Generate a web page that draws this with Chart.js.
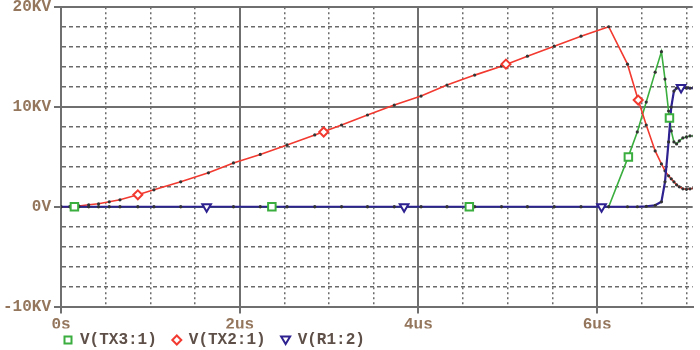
<!DOCTYPE html>
<html><head><meta charset="utf-8">
<script src="https://cdn.jsdelivr.net/npm/chart.js@4/dist/chart.umd.min.js"></script>
<style>html,body{margin:0;padding:0;background:#fff;overflow:hidden}</style>
</head><body>
<canvas id="c" width="700" height="350"></canvas>
<script>
// ---- data (time in us, voltage in KV) ----
const timeUs = [0, 0.1, 0.2, 0.31, 0.42, 0.54, 0.66, 0.86, 1.04, 1.34, 1.65, 1.93, 2.23, 2.53, 2.84, 3.14, 3.43, 3.73, 4.03, 4.32, 4.63, 4.93, 5.22, 5.52, 5.82, 6.13, 6.34, 6.45, 6.55, 6.65, 6.72, 6.76, 6.80, 6.83, 6.86, 6.89, 6.92, 6.96, 7.0, 7.04, 7.08];
const vTX3 = [0, 0, 0, 0, 0, 0, 0, 0, 0, 0, 0, 0, 0, 0, 0, 0, 0, 0, 0, 0, 0, 0, 0, 0, 0, 0, 4.8, 7.5, 10.5, 13.5, 15.55, 12.8, 9.6, 7.6, 6.5, 6.3, 6.6, 6.9, 7.0, 7.1, 7.1];
const vTX2 = [0, 0.02, 0.08, 0.2, 0.3, 0.5, 0.7, 1.2, 1.7, 2.5, 3.4, 4.4, 5.25, 6.2, 7.2, 8.2, 9.2, 10.2, 11.1, 12.2, 13.2, 14.1, 15.1, 16.1, 17.1, 18.05, 14.3, 11.0, 8.2, 5.6, 4.3, 3.6, 3.1, 2.8, 2.5, 2.2, 2.0, 1.8, 1.75, 1.8, 1.85];
const vR1 = [0, 0, 0, 0, 0, 0, 0, 0, 0, 0, 0, 0, 0, 0, 0, 0, 0, 0, 0, 0, 0, 0, 0, 0, 0, 0, 0, 0, 0.05, 0.15, 0.5, 2.5, 6.5, 10.0, 11.6, 11.9, 11.95, 11.95, 11.9, 11.9, 11.9];

// marker symbols drawn on each trace
const markTX3Time = [0.15, 2.36, 4.57, 6.35, 6.81];
const markTX3Val  = [0, 0, 0, 5.0, 8.9];
const markTX2Time = [0.86, 2.94, 4.98, 6.46];
const markTX2Val  = [1.2, 7.5, 14.3, 10.7];
const markR1Time  = [1.63, 3.84, 6.05, 6.94];
const markR1Val   = [0, 0, 0, 11.95];

const seriesNames = ['V(TX3:1)', 'V(TX2:1)', 'V(R1:2)'];
const xTickLabels = {'0': '0s', '2': '2us', '4': '4us', '6': '6us'};
const yTickLabels = {'-10': '-10KV', '0': '0V', '10': '10KV', '20': '20KV'};

// ---- styling ----
const GREEN = '#3aae3e', RED = '#f23a30', BLUE = '#2e2290';
const DOT = '#333333';
const GRID = '#6f6f6f';
const MINOR = '#6a6a6a';
const TICKTXT = '#94765c';
const LEGTXT = '#5e5048';
const FONT = '"Liberation Mono", "DejaVu Sans Mono", monospace';

const zip = (t, v) => t.map((x, i) => ({x: x, y: v[i]}));

function traceDs(label, vals, color, width, order) {
  return {
    label: label, data: zip(timeUs, vals), borderColor: color, borderWidth: width,
    pointRadius: 1.6, pointBackgroundColor: DOT, pointBorderWidth: 0,
    tension: 0, fill: false, order: order
  };
}
function markerDs(label, t, v, color, style, radius, rotation) {
  return {
    label: label, data: zip(t, v), showLine: false, borderColor: color,
    pointStyle: style, pointRadius: radius, pointRotation: rotation,
    pointBorderColor: color, pointBackgroundColor: '#ffffff', pointBorderWidth: 2,
    order: 0, isMarker: true, markerColor: color, markerStyle: style
  };
}

const isMajorX = v => Math.abs(v / 2 - Math.round(v / 2)) < 1e-6;
const isMajorY = v => Math.abs(v / 10 - Math.round(v / 10)) < 1e-6;

const legendPlugin = {
  id: 'psLegend',
  afterDraw(chart) {
    const ctx = chart.ctx;
    ctx.save();
    ctx.font = 'bold 16px ' + FONT;
    ctx.textBaseline = 'middle';
    ctx.textAlign = 'left';
    let x = 68;
    const y = 340;
    chart.data.datasets.filter(d => d.isMarker).forEach(d => {
      ctx.lineWidth = 2;
      ctx.setLineDash([]);
      ctx.strokeStyle = d.markerColor;
      ctx.fillStyle = '#fff';
      ctx.beginPath();
      if (d.markerStyle === 'rect') {
        ctx.rect(x - 3.5, y - 3.5, 7, 7);
      } else if (d.markerStyle === 'rectRot') {
        ctx.moveTo(x, y - 4.5); ctx.lineTo(x + 4.5, y); ctx.lineTo(x, y + 4.5); ctx.lineTo(x - 4.5, y); ctx.closePath();
      } else {
        ctx.moveTo(x - 4.5, y - 3.5); ctx.lineTo(x + 4.5, y - 3.5); ctx.lineTo(x, y + 4); ctx.closePath();
      }
      ctx.fill(); ctx.stroke();
      ctx.fillStyle = LEGTXT;
      ctx.fillText(d.label, x + 12, y);
      x += 12 + ctx.measureText(d.label).width + 20;
    });
    ctx.restore();
  }
};

new Chart(document.getElementById('c'), {
  type: 'line',
  data: {
    datasets: [
      traceDs(seriesNames[0], vTX3, GREEN, 1.6, 3),
      traceDs(seriesNames[1], vTX2, RED, 1.6, 2),
      traceDs(seriesNames[2], vR1, BLUE, 2.2, 1),
      markerDs(seriesNames[0], markTX3Time, markTX3Val, GREEN, 'rect', 5.3, 0),
      markerDs(seriesNames[1], markTX2Time, markTX2Val, RED, 'rectRot', 4.5, 0),
      markerDs(seriesNames[2], markR1Time, markR1Val, BLUE, 'triangle', 5, 180)
    ]
  },
  options: {
    responsive: false,
    animation: false,
    layout: {padding: {top: 0, left: 0, right: 0, bottom: 21.5}},
    plugins: {legend: {display: false}, tooltip: {enabled: false}},
    scales: {
      x: {
        type: 'linear', min: 0, max: 7.07,
        afterFit: s => { s.height = 22; s.paddingLeft = 0; s.paddingRight = 0; },
        ticks: {
          stepSize: 0.5, autoSkip: false, includeBounds: false, maxRotation: 0, padding: 2,
          color: TICKTXT, font: {family: FONT, size: 16, weight: 'bold'},
          callback: v => xTickLabels[String(v)] ?? ''
        },
        grid: {
          color: c => (c.tick && isMajorX(c.tick.value)) ? GRID : MINOR,
          lineWidth: c => (c.tick && isMajorX(c.tick.value)) ? 2 : 1.5,
          tickLength: 7, tickWidth: 2,
          tickColor: c => (c.tick && isMajorX(c.tick.value)) ? GRID : 'rgba(0,0,0,0)'
        },
        border: {
          display: true, color: GRID, width: 2,
          dash: c => (c.tick && !isMajorX(c.tick.value)) ? [2, 3] : []
        }
      },
      y: {
        type: 'linear', min: -10, max: 20,
        afterFit: s => { s.width = 61; s.paddingTop = 5.5; s.paddingBottom = 0; },
        ticks: {
          stepSize: 2, autoSkip: false, padding: 3,
          color: TICKTXT, font: {family: FONT, size: 16, weight: 'bold'},
          callback: v => yTickLabels[String(v)] ?? ''
        },
        grid: {
          color: c => (c.tick && isMajorY(c.tick.value)) ? GRID : MINOR,
          lineWidth: c => (c.tick && isMajorY(c.tick.value)) ? 2 : 1.5,
          tickLength: 7, tickWidth: 2,
          tickColor: c => (c.tick && isMajorY(c.tick.value)) ? GRID : 'rgba(0,0,0,0)'
        },
        border: {
          display: true, color: GRID, width: 2,
          dash: c => (c.tick && !isMajorY(c.tick.value)) ? [4, 3] : []
        }
      }
    }
  },
  plugins: [legendPlugin]
});
</script>
</body></html>
